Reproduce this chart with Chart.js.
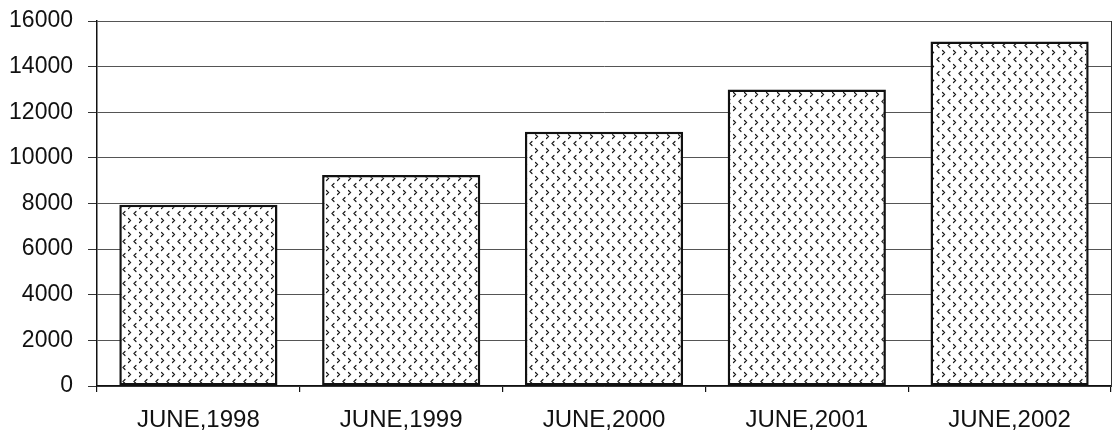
<!DOCTYPE html>
<html>
<head>
<meta charset="utf-8">
<script src="https://cdn.jsdelivr.net/npm/chart.js@4.4.1/dist/chart.umd.min.js"></script>
<style>
html,body{margin:0;padding:0;background:#fff;}
#wrap{width:1114px;height:431px;position:relative;}
</style>
</head>
<body>
<div id="wrap"><canvas id="c" width="1114" height="431"></canvas></div>
<script>
const categories = ["JUNE,1998", "JUNE,1999", "JUNE,2000", "JUNE,2001", "JUNE,2002"];
const seriesValues = [7950, 9250, 11150, 13000, 15100];
const yTickValues = [0, 2000, 4000, 6000, 8000, 10000, 12000, 14000, 16000];

function makePattern() {
  const t = document.createElement('canvas');
  t.width = 11; t.height = 14;
  const g = t.getContext('2d');
  g.fillStyle = '#fff'; g.fillRect(0, 0, 11, 14);
  g.strokeStyle = '#1a1a1a'; g.lineWidth = 1.2; g.lineCap = 'round';
  g.beginPath(); g.moveTo(4, 1.5); g.lineTo(2, 3.5); g.lineTo(4, 5.5); g.stroke();
  g.beginPath(); g.moveTo(7.5, 8.5); g.lineTo(9.5, 10.5); g.lineTo(7.5, 12.5); g.stroke();
  return document.getElementById('c').getContext('2d').createPattern(t, 'repeat');
}

const fontFam = '"Liberation Sans", Arial, sans-serif';
new Chart(document.getElementById('c'), {
  type: 'bar',
  data: {
    labels: categories,
    datasets: [{
      data: seriesValues,
      backgroundColor: makePattern(),
      borderColor: '#111',
      borderWidth: 2.5,
      borderSkipped: false,
      barPercentage: 0.78,
      categoryPercentage: 1.0
    }]
  },
  options: {
    responsive: false,
    animation: false,
    devicePixelRatio: 1,
    layout: { padding: { top: 21, right: 3, left: 0, bottom: 0 } },
    plugins: { legend: { display: false }, tooltip: { enabled: false } },
    scales: {
      x: {
        offset: true,
        afterFit: (s) => { s.height = 45; },
        grid: { offset: true, drawOnChartArea: false, drawTicks: true, tickLength: 6, color: '#111', lineWidth: 1.2 },
        border: { display: true, color: '#111', width: 1.5 },
        ticks: { color: '#111', font: { family: fontFam, size: 24, lineHeight: 1 }, padding: 16, maxRotation: 0 }
      },
      y: {
        min: 0, max: 16000,
        afterBuildTicks: (s) => { s.ticks = yTickValues.map(v => ({ value: v })); },
        afterFit: (s) => { s.width = 97; },
        grid: { color: '#555', lineWidth: 1, tickLength: 9, tickColor: '#333' },
        border: { display: true, color: '#111', width: 1.5 },
        ticks: { color: '#111', font: { family: fontFam, size: 23, lineHeight: 0.2 }, padding: 15, callback: (v) => String(v) }
      },
      y1: {
        position: 'right',
        min: 0, max: 16000,
        afterFit: (s) => { s.width = 0; },
        grid: { drawOnChartArea: false, drawTicks: false },
        border: { display: true, color: '#333', width: 1 },
        ticks: { display: false, padding: 0 }
      }
    }
  }
});
</script>
</body>
</html>
